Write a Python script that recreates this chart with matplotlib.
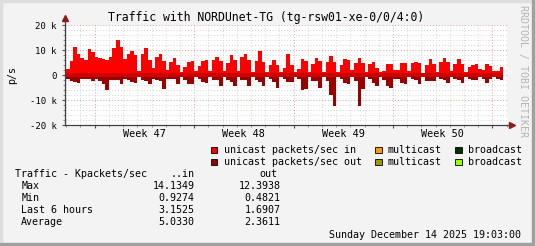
import matplotlib
matplotlib.use("Agg")
import matplotlib.pyplot as plt
from matplotlib.patches import Rectangle
import numpy as np

W, H = 535, 246

# 6-hour averages, Kpackets/sec, days relative to the first week line
start_day = -2.0
step_days = 0.25
unicast_in = [
    2.6, 5.7, 11.3, 8.5, 6.9, 6.1, 10.4, 9.2, 7.3, 6.9, 6.5, 6.0, 7.3, 10.9, 14.13, 11.4,
    6.5, 8.5, 9.7, 8.0, 1.8, 8.5, 10.9, 6.1, 3.0, 7.3, 8.5, 5.7, 2.1,
    5.3, 6.9, 4.0, 1.3, 3.3, 5.3, 5.7, 1.6, 3.9, 5.7, 6.0, 1.6, 6.0, 7.5, 5.7, 1.6,
    4.9, 8.1, 6.1, 1.6, 7.5, 8.5, 6.1, 1.3, 5.7, 9.7, 5.3, 1.3, 4.3, 6.1, 4.0,
    1.3, 2.9, 8.5, 4.1, 1.3, 2.5, 6.5, 5.7, 1.3, 4.5, 6.9, 5.7, 1.3, 5.3, 7.7, 5.3,
    1.3, 4.1, 6.5, 6.1, 2.1, 4.9, 6.9, 4.9, 1.3, 4.5, 5.3, 2.9, 1.3, 1.7, 4.5,
    4.5, 2.1, 2.1, 4.9, 4.9, 1.7, 4.9, 5.3, 4.9, 0.93, 4.1, 6.5, 4.5, 1.3, 5.3, 6.9,
    5.3, 1.7, 4.5, 6.5, 4.5, 1.3, 3.3, 4.1, 4.5, 2.5, 2.1, 4.5, 3.7, 1.7, 1.7, 3.15,
]
unicast_out = [
    1.6, 2.3, 2.7, 2.9, 1.3, 1.3, 1.6, 2.1, 1.3, 2.1, 3.5, 5.7, 1.7, 1.7, 1.7, 3.5,
    1.6, 1.7, 2.7, 3.1, 0.7, 2.0, 2.3, 3.3, 1.3, 2.0, 2.3, 5.3, 1.3,
    1.6, 1.6, 3.6, 0.5, 2.0, 3.5, 3.5, 0.5, 1.6, 2.7, 3.1, 0.5, 2.0, 2.0, 4.1, 0.5,
    2.0, 2.7, 4.1, 0.5, 2.0, 2.0, 4.1, 0.5, 2.0, 2.7, 4.1, 0.48, 1.6, 2.7, 4.9,
    0.5, 1.6, 2.8, 2.8, 0.5, 1.6, 5.7, 5.3, 0.5, 2.4, 2.4, 5.0, 0.5, 2.4, 7.7, 12.39,
    0.5, 1.6, 3.1, 3.3, 0.5, 2.4, 12.2, 5.3, 0.5, 1.6, 3.1, 4.1, 0.5, 2.0, 4.1,
    4.9, 1.6, 1.6, 3.1, 3.3, 0.7, 1.6, 2.0, 3.6, 0.7, 2.4, 2.4, 2.4, 0.7, 1.6, 2.0,
    2.9, 0.7, 1.3, 2.0, 2.9, 0.7, 1.6, 2.0, 2.0, 0.7, 1.6, 2.9, 1.6, 0.7, 1.3, 1.69,
]

week_ticks = [0, 7, 14, 21, 28]
week_labels = ["Week 47", "Week 48", "Week 49", "Week 50"]
y_ticks = [-20, -10, 0, 10, 20]
y_labels = ["-20 k", "-10 k", "0", "10 k", "20 k"]

legend_rows = [
    [("#ff0000", "unicast packets/sec in"), ("#ff9900", "multicast"), ("#003300", "broadcast")],
    [("#990000", "unicast packets/sec out"), ("#999900", "multicast"), ("#99ff00", "broadcast")],
]
stat_names = ["Max", "Min", "Last 6 hours", "Average"]
stat_in = ["14.1349", "0.9274", "3.1525", "5.0330"]
stat_out = ["12.3938", "0.4821", "1.6907", "2.3611"]

plt.rcParams["font.family"] = "DejaVu Sans Mono"


def fx(x):
    return x / W


def fy(y):
    return 1 - y / H


fig = plt.figure(figsize=(W / 100, H / 100), dpi=100, facecolor="#f3f3f3")
ax = fig.add_axes([fx(64.7), fy(125.3), 442 / W, 100 / H])
ax.set_facecolor("white")

edges = start_day + step_days * np.arange(len(unicast_in) + 1)
ax.stairs(unicast_in, edges, fill=True, color="#ff0000", baseline=0, zorder=3)
ax.stairs(-np.array(unicast_out), edges, fill=True, color="#990000", baseline=0, zorder=3)
ax.fill_between([edges[0], edges[-1]], -0.8, 0.8, color="#cc0000", lw=0, zorder=4)

ax.set_xlim(-2.11, 29.0)
ax.set_ylim(-20, 20)
ax.set_xticks(week_ticks)
ax.set_xticklabels([])
ax.set_xticks(np.arange(-2, 30, 1), minor=True)
ax.set_yticks(y_ticks)
ax.set_yticklabels(y_labels)
ax.set_yticks(np.arange(-20, 21, 2), minor=True)
ax.grid(which="minor", color="#d6d6d6", linestyle=(0, (1, 2)), lw=0.7)
ax.grid(which="major", color="#eb9c9c", linestyle=(0, (1, 2)), lw=0.7)
ax.set_axisbelow(True)
ax.tick_params(which="major", length=2.5, width=0.8, color="#505050",
               labelsize=6.5, pad=3.3)
ax.tick_params(which="minor", length=1.2, width=0.6, color="#808080")
for s in ax.spines.values():
    s.set_visible(False)

# axis lines with arrows
ax.plot([0, 1.011], [0, 0], transform=ax.transAxes, color="#404040", lw=0.9, clip_on=False, zorder=5)
ax.plot([0, 0], [0, 1.075], transform=ax.transAxes, color="#404040", lw=0.9, clip_on=False, zorder=5)
ax.plot(1.011, 0, marker=">", ms=4, color="#8b1a1a", transform=ax.transAxes, clip_on=False, zorder=6)
ax.plot(0, 1.075, marker="^", ms=4, color="#8b1a1a", transform=ax.transAxes, clip_on=False, zorder=6)

for i, lab in enumerate(week_labels):
    ax.text(week_ticks[i] + 3.5, -0.087, lab, transform=ax.get_xaxis_transform(),
            ha="center", va="center", fontsize=7.3)

fig.text(fx(266.2), fy(17.5), "Traffic with NORDUnet-TG (tg-rsw01-xe-0/0/4:0)",
         ha="center", va="center", fontsize=8.3)
fig.text(fx(12), fy(75), "p/s", rotation=90, ha="center", va="center", fontsize=7.2)
fig.text(fx(523.3), fy(71), "RRDTOOL / TOBI OETIKER", rotation=270, ha="center",
         va="center", fontsize=7.2, color="#b4b4b4")

# legend
col_x = [210.6, 374.7, 455.0]
for r, row in enumerate(legend_rows):
    yc = 150 + 12 * r
    for c, (col, lab) in enumerate(row):
        fig.add_artist(Rectangle((fx(col_x[c]), fy(yc + 3.4)), 6.8 / W, 6.8 / H,
                                 transform=fig.transFigure, facecolor=col,
                                 edgecolor="black", lw=0.6))
        fig.text(fx(col_x[c] + 12.9), fy(yc), lab, ha="left", va="center", fontsize=7.2)

# stats table
fig.text(fx(15.4), fy(174), "Traffic - Kpackets/sec", ha="left", va="center", fontsize=7.2)
fig.text(fx(194.5), fy(174), "..in", ha="right", va="center", fontsize=7.2)
fig.text(fx(277), fy(174), "out", ha="right", va="center", fontsize=7.2)
for i, name in enumerate(stat_names):
    yc = 186 + 12.1 * i
    fig.text(fx(21.2), fy(yc), name, ha="left", va="center", fontsize=7.2)
    fig.text(fx(194.5), fy(yc), stat_in[i], ha="right", va="center", fontsize=7.2)
    fig.text(fx(280.5), fy(yc), stat_out[i], ha="right", va="center", fontsize=7.2)

fig.text(fx(521), fy(234.5), "Sunday December 14 2025 19:03:00", ha="right",
         va="center", fontsize=7.2)

# frame shading
fig.add_artist(Rectangle((0, fy(2)), 1, 2 / H, transform=fig.transFigure, color="#dedede"))
fig.add_artist(Rectangle((0, 0), 2 / W, 1, transform=fig.transFigure, color="#dedede"))
fig.add_artist(Rectangle((fx(W - 3), 0), 3 / W, 1, transform=fig.transFigure, color="#a0a0a0"))
fig.add_artist(Rectangle((0, 0), 1, 3 / H, transform=fig.transFigure, color="#a0a0a0"))

fig.savefig("out.png", dpi=100, facecolor=fig.get_facecolor())
